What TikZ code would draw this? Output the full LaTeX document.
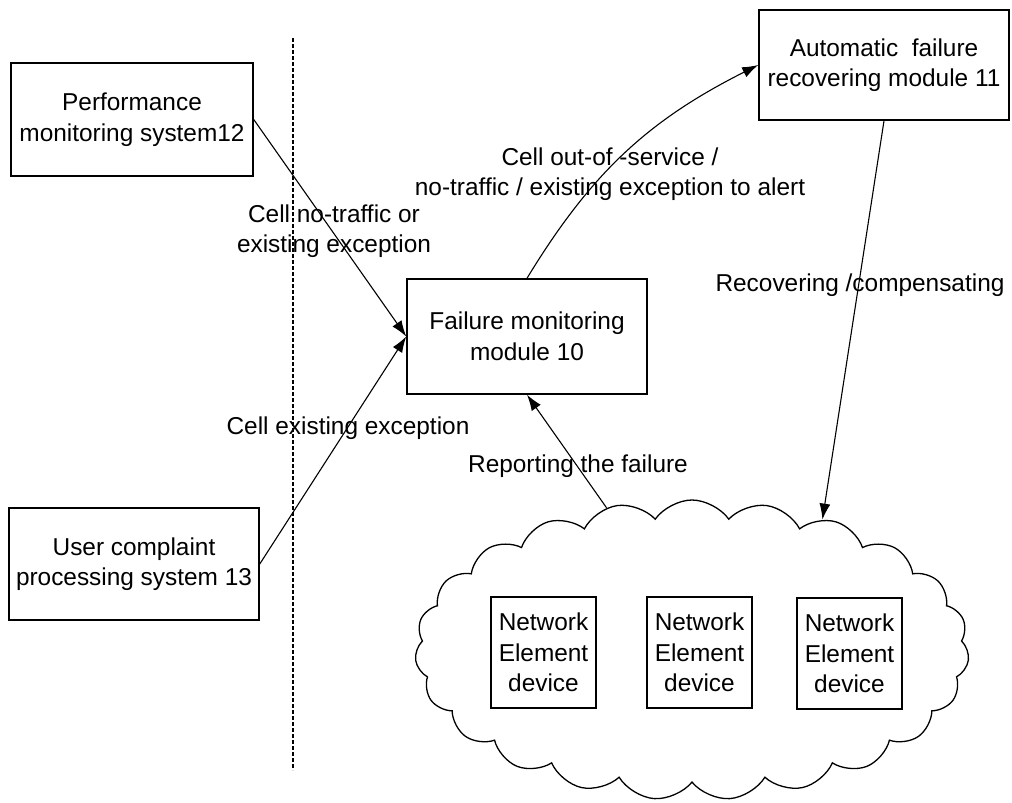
\documentclass[tikz,border=0pt]{standalone}
\usepackage{fontspec}
\setmainfont{Liberation Sans}
\usetikzlibrary{arrows.meta}
\usetikzlibrary{shapes.symbols}

\tikzset{
  box/.style={draw, line width=0.75pt, align=center, inner sep=0pt},
  nebox/.style={box, minimum width=52.5pt, minimum height=55.5pt},
  flow/.style={-{Latex[length=8pt,width=5.5pt]}, line width=0.55pt},
  lbl/.style={align=center, inner sep=0pt}
}

\begin{document}
\begin{tikzpicture}[x=0.5pt, y=-0.5pt, font=\fontsize{12.2}{15.3}\selectfont]
          \useasboundingbox (0,0) rectangle (1012,803);

          \draw [dash pattern=on 2pt off 1pt, line width=0.55pt] (293,38) -- (293,770);

          \node[box, minimum width=121pt, minimum height=56.5pt] (perf) at (132,119.5)
          {Performance\\monitoring system12};
          \node[box, minimum width=125pt, minimum height=56pt] (user) at (134,564)
          {User complaint\\processing system 13};
          \node[box, minimum width=120pt, minimum height=57.5pt] (fmon) at (527,336.5)
          {Failure monitoring\\module 10};
          \node[box, minimum width=125pt, minimum height=55pt] (afr) at (884,65)
          {Automatic~ failure\\recovering module 11};

          \node[cloud, draw, line width=0.65pt, cloud puffs=23, cloud puff arc=110,
          minimum width=277pt, minimum height=150pt] (net) at (692,650) {};

          \node[nebox] (ne1) at (543.5,652.5) {Network\\Element\\device};
          \node[nebox] (ne2) at (699.5,652.5) {Network\\Element\\device};
          \node[nebox] (ne3) at (849.5,653.5) {Network\\Element\\device};

          \draw[flow] (perf.east) -- (fmon.west);
          \draw[flow] (user.east) -- (fmon.west);
          \draw[flow] (net.121) -- (fmon.south);
          \draw[flow] (fmon.north) to[bend left=16] (afr.west);
          \draw[flow] (afr.south) -- (net.45);

          \node[lbl] (lnotraffic) at (334,231) {Cell no-traffic or\\existing exception};
          \node[lbl] (lexcept) at (348,428) {Cell existing exception};
          \node[lbl] (lreport) at (578,466) {Reporting the failure};
          \node[lbl] (lalert) at (610,174)
          {Cell out-of -service /\\no-traffic / existing exception to alert};
          \node[lbl] (lrecover) at (860,285) {Recovering /compensating};

          %\draw [red] (415,500) rectangle (970,800);
\end{tikzpicture}
\end{document}
